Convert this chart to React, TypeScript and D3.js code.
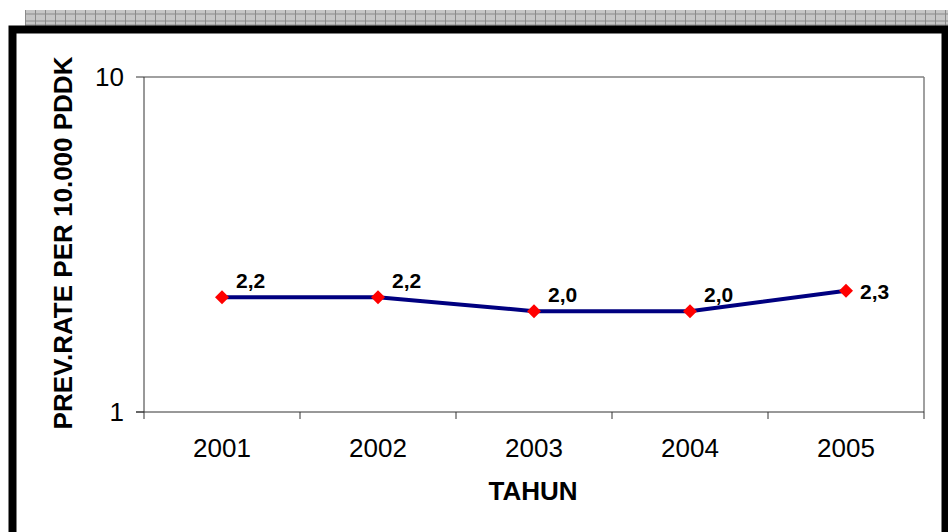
import React from "react";
import * as d3 from "d3";

const years = ["2001", "2002", "2003", "2004", "2005"];
const values = [2.2, 2.2, 2.0, 2.0, 2.3];
const labels = ["2,2", "2,2", "2,0", "2,0", "2,3"];
const yTicks = [1, 10];

const W = 948;
const H = 532;
const plot = { left: 144, top: 77, right: 924, bottom: 412 };
const FONT = "'Liberation Sans', Arial, sans-serif";

export default function App() {
  const x = d3.scaleBand<string>().domain(years).range([plot.left, plot.right]);
  const y = d3.scaleLog().domain([1, 10]).range([plot.bottom, plot.top]);
  const cx = (d: string) => (x(d) as number) + x.bandwidth() / 2;
  const line = d3
    .line<number>()
    .x((_, i) => cx(years[i]))
    .y((v) => y(v));
  const boundaries = years.map((d) => x(d) as number).concat([plot.right]);

  return (
    <div style={{ position: "absolute", left: 0, top: 0 }}>
      <svg width={W} height={H} style={{ display: "block" }}>
        <defs>
          <pattern id="hatch" width="10" height="16" patternUnits="userSpaceOnUse" x="25" y="10">
            <rect width="10" height="16" fill="#c6c6c6" />
            <rect x="0" y="0" width="1" height="16" fill="#8a8a8a" />
          </pattern>
        </defs>
        <rect x={0} y={0} width={W} height={H} fill="#fff" />
        {/* hatched band */}
        <rect x={25} y={10} width={W - 25} height={16} fill="url(#hatch)" />
        <line x1={25} x2={W} y1={14} y2={14} stroke="#8a8a8a" strokeWidth={1} />
        <line x1={25} x2={W} y1={21} y2={21} stroke="#8a8a8a" strokeWidth={1} />
        <line x1={25} x2={W} y1={25} y2={25} stroke="#8a8a8a" strokeWidth={1} />
        {/* frame */}
        <rect x={12.5} y={29.5} width={933} height={H + 20} fill="none" stroke="#000" strokeWidth={8} />

        {/* plot border */}
        <line x1={plot.left} x2={plot.right} y1={plot.top} y2={plot.top} stroke="#808080" strokeWidth={1.5} />
        <line x1={plot.right} x2={plot.right} y1={plot.top} y2={plot.bottom} stroke="#808080" strokeWidth={1.5} />
        <line x1={plot.left} x2={plot.left} y1={plot.top} y2={plot.bottom} stroke="#333" strokeWidth={1} />
        <line x1={plot.left - 8} x2={plot.right} y1={plot.bottom} y2={plot.bottom} stroke="#333" strokeWidth={1} />

        {yTicks.map((t) => (
          <g key={t}>
            <line x1={plot.left - 8} x2={plot.left} y1={y(t)} y2={y(t)} stroke="#333" strokeWidth={1} />
            <text x={plot.left - 20} y={y(t)} dy="0.35em" textAnchor="end" fontFamily={FONT} fontSize={26} fill="#000">
              {t}
            </text>
          </g>
        ))}
        {boundaries.map((b, i) => (
          <line key={i} x1={b} x2={b} y1={plot.bottom} y2={plot.bottom + 7} stroke="#333" strokeWidth={1} />
        ))}
        {years.map((d) => (
          <text key={d} x={cx(d)} y={457} textAnchor="middle" fontFamily={FONT} fontSize={26} fill="#000">
            {d}
          </text>
        ))}

        <path d={line(values) || ""} fill="none" stroke="#000080" strokeWidth={4} />
        {values.map((v, i) => {
          const px = cx(years[i]);
          const py = y(v);
          const s = 7;
          return (
            <path
              key={i}
              d={`M${px},${py - s}L${px + s},${py}L${px},${py + s}L${px - s},${py}Z`}
              fill="#ff0000"
            />
          );
        })}
        {values.map((v, i) => {
          const last = i === values.length - 1;
          return (
            <text
              key={i}
              x={cx(years[i]) + 14}
              y={y(v) + (last ? 8 : -9)}
              fontFamily={FONT}
              fontSize={21}
              fontWeight="bold"
              fill="#000"
            >
              {labels[i]}
            </text>
          );
        })}

        <text
          transform={`translate(72,243) rotate(-90)`}
          textAnchor="middle"
          fontFamily={FONT}
          fontSize={26}
          fontWeight="bold"
          fill="#000"
        >
          PREV.RATE PER 10.000 PDDK
        </text>
        <text x={533} y={500} textAnchor="middle" fontFamily={FONT} fontSize={26} fontWeight="bold" fill="#000">
          TAHUN
        </text>
      </svg>
    </div>
  );
}
